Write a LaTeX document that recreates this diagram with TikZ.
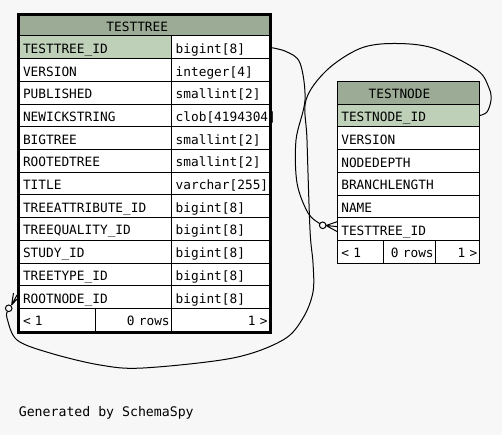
\documentclass[tikz,border=0pt]{standalone}
\usepackage{fontspec}
\setmonofont{DejaVu Sans Mono}
\usetikzlibrary{calc}
\definecolor{paper}{HTML}{F7F7F7}
\definecolor{headgreen}{HTML}{9BAB96}
\definecolor{keygreen}{HTML}{BED1B8}
\newcommand\cellfont{\fontsize{12.8}{14}\selectfont\ttfamily}
\tikzset{
	cell/.style={draw=black, line width=1pt, fill=white, anchor=north west, outer sep=0pt,
		inner ysep=0pt, inner xsep=4pt, minimum height=22.7pt, text height=12pt, text depth=0pt,
		align=left, font=\cellfont},
	ttname/.style={cell, text width=144.7pt},
	tttype/.style={cell, text width=89.8pt},
	tnname/.style={cell, text width=134pt},
	headcell/.style={cell, fill=headgreen},
	headtext/.style={font=\cellfont, text height=12pt, text depth=0pt, inner sep=0pt},
	rightcell/.style={cell, inner xsep=2pt, align=right},
	link/.style={draw=black, line width=1pt}
}

\begin{document}
\begin{tikzpicture}[x=1pt, y=-1pt]
		%%%%% START %%%%%
		
		\path[use as bounding box, fill=paper] (0,0) rectangle (502,435);
		
		\node[headcell, text width=242.5pt, minimum height=21.7pt, label={[headtext, xshift=-7pt]center:TESTTREE}] (tt-head) at (19,14.3) {};
		\node[ttname, fill=keygreen] (tt-id) at (tt-head.south west) {TESTTREE\_ID};
		\node[tttype] (tt-id-t) at (tt-id.north east) {bigint[8]};
		\node[ttname] (tt-ver) at (tt-id.south west) {VERSION};
		\node[tttype] (tt-ver-t) at (tt-ver.north east) {integer[4]};
		\node[ttname] (tt-pub) at (tt-ver.south west) {PUBLISHED};
		\node[tttype] (tt-pub-t) at (tt-pub.north east) {smallint[2]};
		\node[ttname] (tt-newick) at (tt-pub.south west) {NEWICKSTRING};
		\node[tttype] (tt-newick-t) at (tt-newick.north east) {clob[4194304]};
		\node[ttname] (tt-big) at (tt-newick.south west) {BIGTREE};
		\node[tttype] (tt-big-t) at (tt-big.north east) {smallint[2]};
		\node[ttname] (tt-rooted) at (tt-big.south west) {ROOTEDTREE};
		\node[tttype] (tt-rooted-t) at (tt-rooted.north east) {smallint[2]};
		\node[ttname] (tt-title) at (tt-rooted.south west) {TITLE};
		\node[tttype] (tt-title-t) at (tt-title.north east) {varchar[255]};
		\node[ttname] (tt-attr) at (tt-title.south west) {TREEATTRIBUTE\_ID};
		\node[tttype] (tt-attr-t) at (tt-attr.north east) {bigint[8]};
		\node[ttname] (tt-qual) at (tt-attr.south west) {TREEQUALITY\_ID};
		\node[tttype] (tt-qual-t) at (tt-qual.north east) {bigint[8]};
		\node[ttname] (tt-study) at (tt-qual.south west) {STUDY\_ID};
		\node[tttype] (tt-study-t) at (tt-study.north east) {bigint[8]};
		\node[ttname] (tt-type) at (tt-study.south west) {TREETYPE\_ID};
		\node[tttype] (tt-type-t) at (tt-type.north east) {bigint[8]};
		\node[ttname] (tt-root) at (tt-type.south west) {ROOTNODE\_ID};
		\node[tttype] (tt-root-t) at (tt-root.north east) {bigint[8]};
		\node[cell, text width=68.7pt] (tt-first) at (tt-root.south west) {< 1};
		\node[rightcell, text width=72pt] (tt-rows) at (tt-first.north east) {0 rows};
		\node[rightcell, text width=93.8pt] (tt-last) at (tt-rows.north east) {1 >};
		\draw[line width=3pt] ([xshift=-1pt]tt-head.north west) rectangle ([xshift=1pt,yshift=-1pt]tt-last.south east);
		
		\node[headcell, text width=134pt, minimum height=22.6pt, label={[headtext, xshift=-8.8pt]center:TESTNODE}] (tn-head) at (337.3,81.7) {};
		\node[tnname, fill=keygreen] (tn-id) at (tn-head.south west) {TESTNODE\_ID};
		\node[tnname] (tn-ver) at (tn-id.south west) {VERSION};
		\node[tnname] (tn-depth) at (tn-ver.south west) {NODEDEPTH};
		\node[tnname] (tn-branch) at (tn-depth.south west) {BRANCHLENGTH};
		\node[tnname] (tn-name) at (tn-branch.south west) {NAME};
		\node[tnname] (tn-ttid) at (tn-name.south west) {TESTTREE\_ID};
		\node[cell, text width=38pt] (tn-first) at (tn-ttid.south west) {< 1};
		\node[rightcell, text width=48.4pt] (tn-rows) at (tn-first.north east) {0 rows};
		\node[rightcell, text width=39.6pt] (tn-last) at (tn-rows.north east) {1 >};
		
		% testtree_id -> testnode.testtree_id
		\draw[link] plot[smooth, tension=0.55] coordinates {(tt-id-t.east) (286,51.5) (300,63) (305,100) (296,140) (297,183) (308,213) (319.9,223.6)};
		\coordinate (tn-ring) at (322.7,225.3);
		\draw[link] (tn-ring) circle (3.3);
		\draw[link] (326,225.5) -- ([yshift=7.5pt]tn-ttid.west) (326,225.5) -- ([yshift=2.5pt]tn-ttid.west) (326,225.5) -- ([yshift=-2.5pt]tn-ttid.west);
		
		% testnode_id -> testtree.rootnode_id
		\draw[link] plot[smooth, tension=0.55] coordinates {(tn-id.east) (487,112) (491,100) (489,88) (477,70) (433,48) (393,43.5) (360,48.5) (327,70) (306,100) (307,140) (310,230) (313,263) (313,292) (303,318) (283,340) (233,358) (143,368) (100,365) (50,353) (17,340) (7,318) (7.5,311.6)};
		\coordinate (tt-ring) at (8.7,308.3);
		\draw[link] (tt-ring) circle (3.3);
		\draw[link] (11.6,305) -- ([xshift=-5.5pt,yshift=4pt]tt-root.west) (11.6,305) -- ([xshift=-2pt,yshift=2pt]tt-root.west) (11.6,305) -- ([xshift=-2pt,yshift=-2pt]tt-root.west);
		
		\node[anchor=base west, font=\fontsize{13.2}{15}\selectfont\ttfamily] (credit) at (15.3,416.7) {Generated by SchemaSpy};
		
		%%%%% END %%%%%
\end{tikzpicture}
\end{document}
